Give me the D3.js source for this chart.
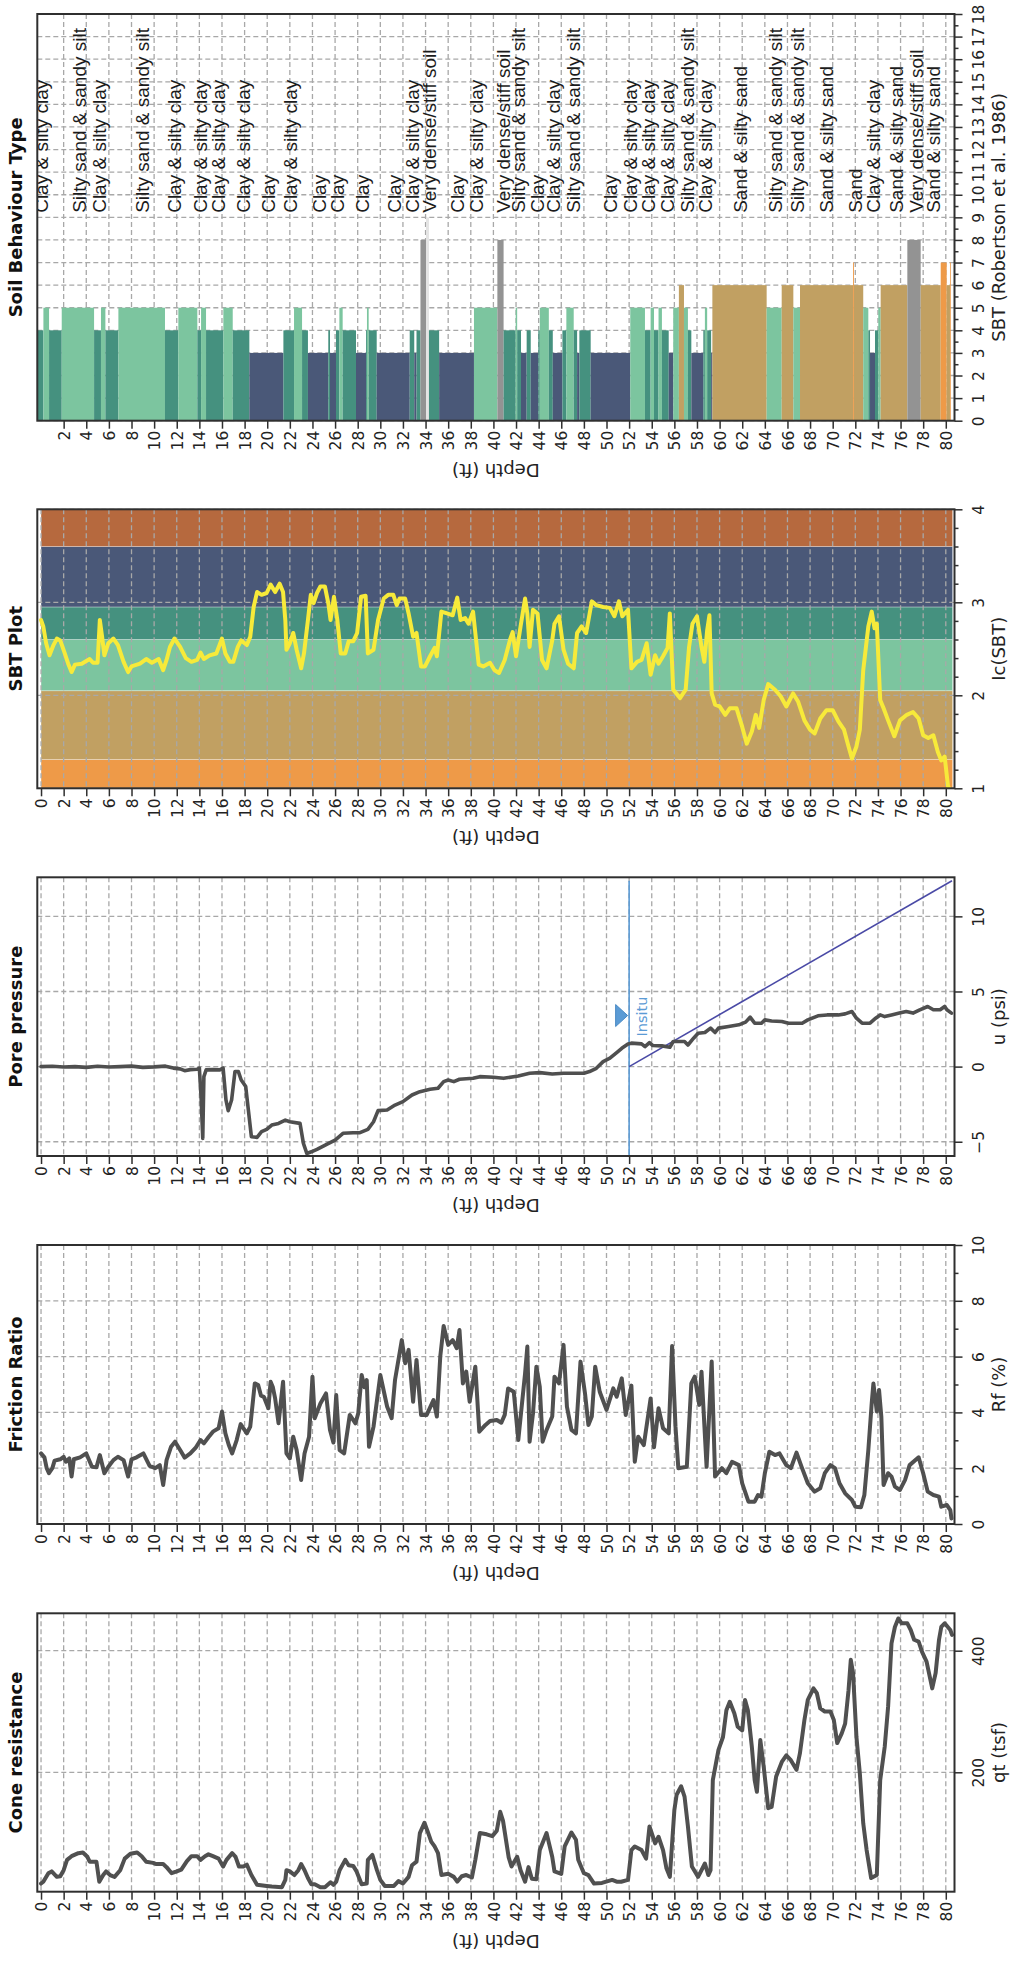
<!DOCTYPE html>
<html>
<head>
<meta charset="utf-8">
<script src="https://cdn.jsdelivr.net/npm/d3@7"></script>
<style>
  body { margin: 0; background: #fff; }
  svg { display: block; }
</style>
</head>
<body>
<svg id="log" width="1010" height="1967"></svg>
<script>
// ---------------- CPT sounding data (depth in ft) ----------------

// Cone resistance qt (tsf)
const coneResistance = [[0,17],[0.2,20],[0.65,34],[0.94,37],[1.4,28],[1.7,29],[2.0,39],[2.3,56],[2.7,62],[3.3,67],[3.7,68],[4.1,61],[4.3,53],[4.9,53],[5.15,20],[5.5,31],[5.75,37],[6.1,31],[6.5,28],[7.0,39],[7.4,58],[7.9,66],[8.5,68],[8.9,62],[9.3,53],[9.9,51],[10.2,49],[10.8,49],[11.1,44],[11.55,34],[12.0,37],[12.4,40],[12.9,54],[13.3,62],[13.8,62],[14.1,56],[14.5,62],[14.8,65],[15.2,62],[15.7,58],[16.1,45],[16.4,56],[16.9,67],[17.2,61],[17.5,45],[17.9,45],[18.2,48],[18.6,31],[19.1,15],[19.95,13],[20.4,12],[21.3,11],[21.6,23],[21.7,39],[22.0,37],[22.4,31],[22.75,39],[23.0,49],[23.3,39],[23.6,26],[23.9,16],[24.2,16],[24.7,11],[25.1,11],[25.6,19],[25.85,15],[26.1,20],[26.4,39],[26.9,56],[27.2,47],[27.6,46],[27.9,37],[28.35,16],[28.8,17],[28.9,56],[29.3,64],[29.7,39],[30.0,23],[30.4,13],[31.2,13],[31.6,21],[32.0,17],[32.5,28],[32.8,47],[33.2,53],[33.5,100],[33.9,117],[34.2,102],[34.5,86],[34.8,78],[35.1,67],[35.4,31],[36.0,33],[36.5,28],[36.8,20],[37.2,29],[37.6,31],[38.1,27],[38.4,56],[38.8,100],[39.4,98],[39.9,95],[40.3,104],[40.6,135],[40.85,120],[41.1,90],[41.35,60],[41.6,45],[42.1,61],[42.4,39],[42.8,20],[43.1,44],[43.4,25],[43.8,24],[44.1,72],[44.7,100],[45.2,61],[45.4,37],[46.0,33],[46.3,78],[46.9,101],[47.3,89],[47.5,56],[48.0,34],[48.4,31],[48.9,17],[49.6,18],[50.5,23],[50.9,20],[51.3,20],[51.9,23],[52.2,72],[52.5,78],[53.1,72],[53.5,58],[53.8,111],[54.3,83],[54.6,94],[55.0,72],[55.3,42],[55.6,28],[56.0,138],[56.2,163],[56.6,177],[56.9,160],[57.2,111],[57.55,45],[58.1,28],[58.7,50],[59.0,31],[59.2,39],[59.4,187],[59.9,237],[60.3,258],[60.6,302],[60.9,316],[61.3,297],[61.6,275],[62.0,269],[62.25,319],[62.5,302],[62.85,242],[63.1,187],[63.3,168],[63.6,253],[63.9,209],[64.3,141],[64.6,143],[65.0,193],[65.5,217],[65.9,228],[66.3,220],[66.8,204],[67.1,231],[67.5,286],[67.8,319],[68.3,338],[68.6,330],[68.9,305],[69.3,300],[69.8,300],[70.1,286],[70.4,248],[70.8,264],[71.1,280],[71.4,335],[71.6,385],[71.8,363],[72.1,258],[72.4,198],[72.7,116],[73.0,72],[73.4,26],[73.9,31],[74.2,187],[74.6,242],[74.9,308],[75.2,412],[75.5,439],[75.8,453],[76.1,445],[76.6,445],[76.9,434],[77.2,418],[77.6,415],[77.9,398],[78.3,382],[78.8,338],[79.1,363],[79.4,418],[79.6,439],[79.9,445],[80.4,434],[80.55,426]];

// Friction ratio Rf (%)
const frictionRatio = [[0,2.53],[0.3,2.39],[0.5,2.0],[0.7,1.82],[1.0,2.0],[1.2,2.27],[1.7,2.32],[2.0,2.41],[2.2,2.23],[2.5,2.35],[2.7,1.70],[2.9,2.32],[3.45,2.39],[4.0,2.53],[4.5,2.05],[4.9,2.03],[5.2,2.47],[5.6,1.82],[5.95,2.05],[6.4,2.29],[6.8,2.41],[7.3,2.29],[7.7,1.70],[8.0,2.32],[8.45,2.39],[9.05,2.53],[9.6,2.08],[10.1,2.0],[10.5,2.11],[10.8,1.40],[11.1,2.29],[11.5,2.77],[11.85,2.95],[12.3,2.65],[12.7,2.38],[13.2,2.53],[13.7,2.75],[14.1,3.01],[14.4,2.89],[14.8,3.11],[15.2,3.31],[15.7,3.43],[16.0,4.03],[16.3,3.25],[16.6,2.83],[16.9,2.53],[17.3,3.01],[17.65,3.58],[18.2,3.25],[18.5,3.49],[18.9,5.04],[19.2,4.98],[19.45,4.6],[19.7,4.56],[20.1,4.15],[20.3,5.10],[20.5,4.9],[20.7,4.50],[21.0,3.61],[21.4,5.10],[21.7,2.53],[22.0,2.35],[22.3,3.13],[22.6,2.65],[23.0,1.58],[23.3,2.53],[23.7,3.13],[24.0,5.28],[24.2,3.79],[24.7,4.32],[25.2,4.68],[25.55,3.37],[25.85,2.92],[26.1,4.62],[26.4,2.65],[26.8,2.53],[27.3,3.91],[27.8,3.61],[28.05,3.97],[28.35,5.34],[28.6,4.9],[28.8,5.16],[29.0,2.77],[29.4,3.49],[30.0,5.34],[30.6,4.21],[31.0,3.79],[31.3,5.16],[31.9,6.59],[32.2,5.76],[32.5,6.24],[32.9,4.38],[33.2,5.88],[33.6,3.91],[34.1,3.91],[34.7,4.44],[35.0,3.85],[35.3,6.0],[35.6,7.10],[36.0,6.42],[36.4,6.59],[36.75,6.30],[37.0,6.95],[37.3,5.04],[37.6,5.46],[37.9,4.38],[38.4,5.64],[38.75,3.31],[39.3,3.55],[39.7,3.69],[40.3,3.73],[40.7,3.63],[41.0,3.91],[41.3,4.86],[41.8,4.74],[42.2,3.01],[42.5,4.21],[42.8,5.40],[43.0,6.36],[43.2,2.95],[43.5,3.97],[43.8,5.64],[44.1,4.92],[44.35,2.95],[44.7,3.37],[45.2,3.85],[45.4,5.28],[45.8,5.04],[46.2,6.42],[46.5,4.21],[46.9,3.37],[47.3,3.25],[47.7,5.82],[48.1,4.68],[48.4,3.55],[48.7,3.85],[49.0,5.64],[49.4,4.74],[50.0,4.09],[50.6,4.86],[50.9,4.56],[51.35,5.22],[51.7,3.91],[52.2,4.96],[52.5,2.23],[52.8,3.13],[53.3,2.83],[53.9,4.50],[54.2,2.75],[54.6,4.15],[55.0,3.43],[55.5,3.25],[55.8,6.38],[56.1,3.49],[56.35,2.0],[57.1,2.05],[57.5,5.04],[57.8,5.28],[58.2,4.27],[58.4,5.46],[58.85,2.05],[59.3,5.82],[59.6,1.70],[60.2,2.0],[60.6,1.82],[61.1,2.23],[61.7,2.11],[62.0,1.46],[62.55,0.80],[63.1,0.80],[63.4,1.04],[63.7,0.98],[64.0,1.82],[64.4,2.59],[64.9,2.47],[65.3,2.53],[65.9,2.11],[66.3,2.0],[66.8,2.56],[67.25,2.05],[67.8,1.46],[68.4,1.16],[68.9,1.28],[69.3,1.82],[69.8,2.11],[70.2,2.0],[70.6,1.46],[71.1,1.10],[71.7,0.86],[72.0,0.62],[72.5,0.60],[72.8,1.04],[73.15,2.65],[73.45,4.33],[73.6,5.04],[73.9,4.03],[74.1,4.80],[74.3,3.85],[74.5,1.40],[74.9,1.82],[75.2,1.70],[75.5,1.34],[75.95,1.22],[76.4,1.58],[76.8,2.11],[77.6,2.39],[78.0,1.82],[78.4,1.16],[78.9,1.04],[79.4,0.98],[79.6,0.62],[80.1,0.68],[80.4,0.50],[80.5,0.20]];

// Pore pressure u (psi)
const porePressure = [[0,0],[1,0.02],[2,-0.03],[3,0.0],[4,-0.05],[5,0.02],[6,-0.03],[7,0.0],[8,0.03],[9,-0.05],[10,-0.02],[11,0.03],[11.7,-0.1],[12.3,-0.15],[12.7,-0.27],[13.2,-0.2],[13.8,-0.18],[14.0,-0.1],[14.15,-2.0],[14.3,-4.78],[14.4,-0.67],[14.6,-0.22],[15.2,-0.2],[15.8,-0.22],[16.1,-0.1],[16.35,-2.22],[16.55,-2.93],[16.85,-2.22],[17.15,-0.33],[17.45,-0.33],[17.7,-0.89],[18.1,-1.33],[18.3,-2.67],[18.6,-4.67],[19.1,-4.71],[19.5,-4.33],[19.95,-4.18],[20.4,-3.89],[21.0,-3.78],[21.6,-3.56],[22.0,-3.67],[22.9,-3.78],[23.2,-5.11],[23.5,-5.78],[23.9,-5.67],[24.4,-5.51],[25.3,-5.16],[26.0,-4.89],[26.7,-4.44],[27.6,-4.4],[28.2,-4.4],[28.9,-4.18],[29.4,-3.67],[29.8,-2.93],[30.6,-2.89],[31.3,-2.56],[32.0,-2.33],[32.8,-1.89],[33.5,-1.67],[34.4,-1.51],[35.1,-1.44],[35.6,-1.0],[36.0,-0.89],[36.5,-1.0],[37.0,-0.84],[38.2,-0.78],[38.8,-0.67],[40.0,-0.71],[40.9,-0.78],[42.2,-0.62],[43.2,-0.44],[44.1,-0.4],[45.2,-0.49],[46.2,-0.44],[48.0,-0.44],[48.5,-0.33],[49.1,-0.11],[49.7,0.33],[50.3,0.56],[50.9,0.93],[51.35,1.22],[51.9,1.51],[52.2,1.56],[53.1,1.51],[53.4,1.33],[53.8,1.6],[54.1,1.4],[54.9,1.38],[55.6,1.29],[55.9,1.67],[56.9,1.67],[57.2,1.44],[57.7,1.89],[58.1,2.22],[58.7,2.27],[59.2,2.56],[59.6,2.27],[59.9,2.56],[60.8,2.67],[61.7,2.78],[62.3,2.96],[62.7,3.29],[63.1,2.89],[63.7,2.89],[64.0,3.11],[64.6,3.04],[65.5,3.0],[66.1,2.89],[67.3,2.89],[67.8,3.11],[68.7,3.38],[69.5,3.44],[70.5,3.44],[71.1,3.51],[71.7,3.67],[72.1,3.22],[72.6,2.89],[73.3,2.89],[73.8,3.22],[74.2,3.44],[74.6,3.33],[75.2,3.44],[75.9,3.56],[76.5,3.67],[77.1,3.56],[77.7,3.78],[78.4,4.0],[78.9,3.78],[79.5,3.78],[79.9,4.0],[80.1,3.78],[80.5,3.56]];

// Hydrostatic (in-situ) pressure line and water table
const waterTableDepth = 52;
const hydroDepth = [52, 80.55];
const hydroPressure = [0, 12.37];
const insituMarkerU = 3.4;

// Soil behaviour type index Ic
const icSBT = [[0,2.81],[0.2,2.74],[0.45,2.56],[0.75,2.43],[1.1,2.54],[1.4,2.61],[1.7,2.59],[2.1,2.45],[2.4,2.34],[2.7,2.25],[3.0,2.33],[3.6,2.34],[4.3,2.39],[4.6,2.35],[5.0,2.35],[5.2,2.81],[5.4,2.63],[5.6,2.43],[5.95,2.56],[6.4,2.61],[6.8,2.54],[7.3,2.36],[7.7,2.25],[8.0,2.31],[8.75,2.34],[9.3,2.39],[9.8,2.35],[10.4,2.39],[10.8,2.27],[11.1,2.38],[11.4,2.52],[11.8,2.61],[12.3,2.52],[12.8,2.40],[13.3,2.36],[13.8,2.38],[14.1,2.46],[14.4,2.39],[14.9,2.43],[15.5,2.45],[16.0,2.61],[16.3,2.45],[16.7,2.36],[17.0,2.36],[17.4,2.52],[17.7,2.59],[18.2,2.54],[18.5,2.63],[18.8,2.95],[19.1,3.11],[19.5,3.08],[19.95,3.10],[20.3,3.19],[20.7,3.11],[21.1,3.20],[21.4,3.11],[21.6,2.81],[21.7,2.49],[22.0,2.56],[22.3,2.67],[22.6,2.49],[23.0,2.29],[23.25,2.45],[23.6,2.81],[23.85,3.08],[24.1,2.99],[24.4,3.10],[24.7,3.17],[25.1,3.17],[25.4,2.99],[25.6,2.81],[25.9,3.06],[26.2,2.81],[26.5,2.45],[26.9,2.45],[27.2,2.58],[27.6,2.58],[27.95,2.67],[28.3,3.06],[28.7,3.07],[28.9,2.45],[29.4,2.49],[29.8,2.81],[30.3,3.04],[30.7,3.08],[31.15,3.08],[31.45,2.97],[31.7,3.04],[32.2,3.04],[32.5,2.88],[32.9,2.63],[33.2,2.67],[33.6,2.31],[33.95,2.31],[34.4,2.42],[34.8,2.51],[35.0,2.42],[35.4,2.90],[35.9,2.88],[36.4,2.86],[36.8,3.05],[37.1,2.81],[37.5,2.83],[37.8,2.77],[38.2,2.90],[38.7,2.33],[39.1,2.31],[39.7,2.35],[40.1,2.27],[40.5,2.24],[41.0,2.38],[41.5,2.61],[41.7,2.68],[42.0,2.42],[42.4,2.74],[42.8,3.04],[43.0,2.88],[43.2,2.52],[43.5,2.92],[43.9,2.88],[44.3,2.38],[44.7,2.29],[45.2,2.59],[45.4,2.77],[45.8,2.85],[46.2,2.49],[46.6,2.34],[47.1,2.29],[47.4,2.67],[47.8,2.74],[48.2,2.67],[48.7,3.01],[49.1,2.97],[49.7,2.95],[50.3,2.94],[50.7,2.85],[51.1,3.01],[51.4,2.85],[51.9,2.92],[52.2,2.29],[52.7,2.36],[53.1,2.38],[53.55,2.56],[53.9,2.22],[54.3,2.43],[54.6,2.34],[55.0,2.42],[55.4,2.51],[55.6,2.88],[55.9,2.06],[56.5,1.97],[57.0,2.06],[57.3,2.52],[57.6,2.77],[58.0,2.85],[58.4,2.52],[58.65,2.36],[58.9,2.70],[59.1,2.86],[59.3,2.02],[59.6,1.90],[60.0,1.88],[60.5,1.79],[60.9,1.86],[61.5,1.86],[62.0,1.66],[62.4,1.48],[62.85,1.61],[63.2,1.79],[63.5,1.65],[63.9,1.95],[64.3,2.12],[64.9,2.06],[65.4,1.99],[65.9,1.88],[66.5,2.02],[66.95,1.93],[67.5,1.73],[68.0,1.63],[68.4,1.59],[68.9,1.75],[69.45,1.84],[70.0,1.84],[70.5,1.72],[71.0,1.63],[71.4,1.45],[71.7,1.32],[72.1,1.45],[72.4,1.63],[72.7,2.27],[73.15,2.74],[73.45,2.90],[73.7,2.72],[73.9,2.77],[74.2,1.95],[74.5,1.86],[74.9,1.73],[75.45,1.56],[75.95,1.73],[76.55,1.79],[77.1,1.82],[77.6,1.75],[78.0,1.57],[78.45,1.54],[78.9,1.57],[79.3,1.39],[79.6,1.30],[79.9,1.34],[80.2,1.02],[80.3,1.0]];

// Ic zone boundaries and their zone colours (lowest band first)
const icBounds = [1, 1.31, 2.05, 2.6, 2.95, 3.6, 4];
const icBandColors = ["#ee9a48", "#c1a062", "#7cc59f", "#45917f", "#4a5878", "#b6693e"];
const icBandEndDepth = 80.6;

// SBT layers: top depth of each layer and its zone number
const sbtLayerTop = [-0.33,0.21,0.71,1.83,4.69,5.3,5.69,6.84,10.96,12.14,13.82,14.15,14.59,16.12,16.95,18.42,21.43,22.37,23.08,23.6,25.4,25.55,26.08,26.38,26.67,27.85,28.74,28.82,28.97,29.68,32.6,33.0,33.2,33.55,34.04,34.3,35.2,38.28,40.35,40.9,41.97,42.1,42.44,42.94,43.3,43.97,44.1,44.9,45.25,46.1,46.45,47.1,47.4,47.6,48.6,52.1,53.4,53.9,54.2,54.6,54.9,55.5,55.9,56.4,56.85,57.2,57.5,58.56,58.7,58.9,59.25,59.36,64.16,65.49,66.52,67.11,71.8,71.88,72.7,73.15,73.3,73.74,74.03,74.24,76.6,77.78,79.55,80.08,80.37];
const sbtLayerZone = [4,5,4,5,4,5,4,5,4,5,4,5,4,5,4,3,4,5,4,3,4,3,4,5,4,3,4,5,4,3,4,3,4,8,9,4,3,5,8,4,5,4,3,4,3,4,5,4,3,4,5,4,3,4,3,5,4,5,4,5,4,3,5,6,5,4,3,4,5,4,3,6,5,6,5,6,7,6,5,4,3,4,5,6,8,6,7,6,7];
const sbtLayerEnd = 80.42;
const zoneColors = {3: "#4a5878", 4: "#45917f", 5: "#7cc59f", 6: "#c1a062", 7: "#ee9a48", 8: "#939393", 9: "#e4e4e4"};

// SBT layer descriptions and the depth each is written at
const sbtLabelDepth = [0.65,3.95,5.72,9.55,12.35,14.7,16.3,18.5,20.7,22.66,25.17,26.8,29.0,31.8,33.45,34.95,37.4,39.1,41.45,42.8,44.5,45.9,47.65,50.95,52.7,54.3,55.97,57.7,59.35,62.45,65.55,67.5,70.0,72.55,74.15,76.2,77.95,79.5];
const sbtLabelText = ["Clay & silty clay","Silty sand & sandy silt","Clay & silty clay","Silty sand & sandy silt","Clay & silty clay","Clay & silty clay","Clay & silty clay","Clay & silty clay","Clay","Clay & silty clay","Clay","Clay","Clay","Clay","Clay & silty clay","Very dense/stiff soil","Clay","Clay & silty clay","Very dense/stiff soil","Silty sand & sandy silt","Clay","Clay & silty clay","Silty sand & sandy silt","Clay","Clay & silty clay","Clay & silty clay","Clay & silty clay","Silty sand & sandy silt","Clay & silty clay","Sand & silty sand","Silty sand & sandy silt","Silty sand & sandy silt","Sand & silty sand","Sand","Clay & silty clay","Sand & silty sand","Very dense/stiff soil","Sand & silty sand"];

// Axis ticks
const depthTicks = d3.range(0, 81, 2);
const sbtDepthTicks = d3.range(2, 81, 2);
const sbtTicks = d3.range(0, 19, 1);
const sbtMinorTicks = d3.range(0.5, 18, 1);
const icTicks = [1, 2, 3, 4];
const icMinorTicks = d3.range(1, 4.001, 0.2).map(v => +v.toFixed(1)).filter(v => !icTicks.includes(v));
const uTicks = [-5, 0, 5, 10];
const rfTicks = [0, 2, 4, 6, 8, 10];
const rfMinorTicks = [1, 3, 5, 7, 9];
const qtTicks = [200, 400];

// ---------------- layout ----------------
const svg = d3.select("#log");
const plotLeft = 37.3, plotRight = 954.5;
const x = d3.scaleLinear().domain([-0.33, 80.77]).range([plotLeft, plotRight]);

const TICK_FONT = "'DejaVu Sans', Verdana, sans-serif";
const LABEL_FONT = "'Liberation Sans', Arial, sans-serif";
const FRAME = "#2f2f2f";

let clipId = 0;

function drawPanel(cfg) {
  const g = svg.append("g");
  const y = d3.scaleLinear().domain(cfg.domain).range([cfg.bottom, cfg.top]);
  const xTicks = cfg.depthTicks || depthTicks;
  const cid = "clip" + (clipId++);
  g.append("clipPath").attr("id", cid).append("rect")
    .attr("x", plotLeft).attr("y", cfg.top)
    .attr("width", plotRight - plotLeft).attr("height", cfg.bottom - cfg.top);

  const under = g.append("g").attr("clip-path", `url(#${cid})`);
  if (cfg.under) cfg.under(under, y);

  // dashed grid
  const grid = g.append("g")
    .attr("stroke", "#a8a8a8").attr("stroke-width", 1.3)
    .attr("stroke-dasharray", "5,3").attr("fill", "none");
  grid.selectAll("line.v").data(xTicks).join("line")
    .attr("x1", d => x(d)).attr("x2", d => x(d))
    .attr("y1", cfg.top).attr("y2", cfg.bottom);
  grid.selectAll("line.h").data(cfg.gridValues).join("line")
    .attr("x1", plotLeft).attr("x2", plotRight)
    .attr("y1", d => y(d)).attr("y2", d => y(d));

  const over = g.append("g").attr("clip-path", `url(#${cid})`);
  if (cfg.over) cfg.over(over, y);

  // frame
  g.append("rect")
    .attr("x", plotLeft).attr("y", cfg.top)
    .attr("width", plotRight - plotLeft).attr("height", cfg.bottom - cfg.top)
    .attr("fill", "none").attr("stroke", FRAME).attr("stroke-width", 2);

  // depth axis along the bottom
  const xa = g.append("g").attr("transform", `translate(0,${cfg.bottom})`)
    .call(d3.axisBottom(x).tickValues(xTicks).tickSize(8).tickSizeOuter(0));
  xa.select(".domain").remove();
  xa.selectAll(".tick line").attr("stroke", FRAME).attr("stroke-width", 1.5);
  xa.selectAll(".tick text")
    .attr("transform", "rotate(-90)")
    .attr("x", -10).attr("y", 0).attr("dy", "0.36em")
    .attr("text-anchor", "end")
    .attr("fill", "#222")
    .style("font-family", TICK_FONT).style("font-size", "15.5px");

  g.append("text")
    .attr("transform", `translate(${(plotLeft + plotRight) / 2},${cfg.bottom + 43}) rotate(180)`)
    .attr("text-anchor", "middle")
    .attr("fill", "#222")
    .style("font-family", TICK_FONT).style("font-size", "18px")
    .text("Depth (ft)");

  // value axis on the right
  const ya = g.append("g").attr("transform", `translate(${plotRight},0)`)
    .call(d3.axisRight(y).tickValues(cfg.ticks).tickSize(8).tickSizeOuter(0).tickFormat(d3.format("d")));
  ya.select(".domain").remove();
  ya.selectAll(".tick line").attr("stroke", FRAME).attr("stroke-width", 1.5);
  ya.selectAll(".tick text")
    .attr("transform", "rotate(-90)")
    .attr("x", 0).attr("y", 29).attr("dy", 0)
    .attr("text-anchor", "middle")
    .attr("fill", "#222")
    .style("font-family", TICK_FONT).style("font-size", "15.5px");
  if (cfg.minorTicks) {
    const ym = g.append("g").attr("transform", `translate(${plotRight},0)`)
      .call(d3.axisRight(y).tickValues(cfg.minorTicks).tickSize(4).tickSizeOuter(0).tickFormat(""));
    ym.select(".domain").remove();
    ym.selectAll(".tick line").attr("stroke", FRAME).attr("stroke-width", 1.5);
  }

  const midY = (cfg.top + cfg.bottom) / 2;
  g.append("text")
    .attr("transform", `translate(${plotRight + 50},${midY}) rotate(-90)`)
    .attr("text-anchor", "middle")
    .attr("fill", "#222")
    .style("font-family", TICK_FONT).style("font-size", "18px")
    .text(cfg.axisTitle);

  g.append("text")
    .attr("transform", `translate(22,${midY}) rotate(-90)`)
    .attr("text-anchor", "middle")
    .attr("fill", "#111")
    .style("font-family", TICK_FONT).style("font-size", "18px").style("font-weight", "bold")
    .text(cfg.title);

  return y;
}

function traceLine(layer, y, data, color, width) {
  layer.append("path")
    .datum(data)
    .attr("fill", "none")
    .attr("stroke", color)
    .attr("stroke-width", width)
    .attr("stroke-linejoin", "round")
    .attr("stroke-linecap", "round")
    .attr("d", d3.line().x(d => x(d[0])).y(d => y(d[1])));
}

// ---------------- Soil Behaviour Type ----------------
drawPanel({
  top: 14, bottom: 420.7, domain: [0, 18],
  ticks: sbtTicks, minorTicks: sbtMinorTicks, gridValues: sbtTicks,
  depthTicks: sbtDepthTicks,
  title: "Soil Behaviour Type", axisTitle: "SBT (Robertson et al. 1986)",
  over: (layer, y) => {
    const layers = sbtLayerTop.map((top, i) => ({
      top, zone: sbtLayerZone[i],
      end: i + 1 < sbtLayerTop.length ? sbtLayerTop[i + 1] : sbtLayerEnd
    }));
    layer.selectAll("rect.layer").data(layers).join("rect")
      .attr("x", d => x(d.top))
      .attr("width", d => Math.max(0.8, x(d.end) - x(d.top)))
      .attr("y", d => y(d.zone))
      .attr("height", d => y(0) - y(d.zone))
      .attr("fill", d => zoneColors[d.zone]);
    const labels = sbtLabelDepth.map((d, i) => ({ d, t: sbtLabelText[i] }));
    layer.selectAll("text.sbt").data(labels).join("text")
      .attr("transform", d => `translate(${x(d.d)},${y(9.2)}) rotate(-90)`)
      .attr("fill", "#1b1b1b")
      .style("font-family", LABEL_FONT).style("font-size", "19px")
      .text(d => d.t);
  }
});

// ---------------- SBT Plot (Ic) ----------------
drawPanel({
  top: 509.3, bottom: 788.3, domain: [1, 4],
  ticks: icTicks, minorTicks: icMinorTicks, gridValues: icTicks,
  title: "SBT Plot", axisTitle: "Ic(SBT)",
  under: (layer, y) => {
    const bands = icBandColors.map((c, i) => ({ lo: icBounds[i], hi: icBounds[i + 1], c }));
    layer.selectAll("rect.band").data(bands).join("rect")
      .attr("x", x(0)).attr("width", x(icBandEndDepth) - x(0))
      .attr("y", d => y(d.hi)).attr("height", d => y(d.lo) - y(d.hi))
      .attr("fill", d => d.c)
      .attr("stroke", "rgba(255,255,255,0.3)").attr("stroke-width", 1);
  },
  over: (layer, y) => traceLine(layer, y, icSBT, "#f7ea3a", 4)
});

// ---------------- Pore pressure ----------------
drawPanel({
  top: 877.3, bottom: 1156, domain: [-5.95, 12.6],
  ticks: uTicks, gridValues: uTicks,
  title: "Pore pressure", axisTitle: "u (psi)",
  over: (layer, y) => {
    layer.append("line")
      .attr("x1", x(waterTableDepth)).attr("x2", x(waterTableDepth))
      .attr("y1", y(hydroPressure[1])).attr("y2", y(-5.95))
      .attr("stroke", "#5b9bd5").attr("stroke-width", 1.6);
    layer.append("line")
      .attr("x1", x(hydroDepth[0])).attr("y1", y(hydroPressure[0]))
      .attr("x2", x(hydroDepth[1])).attr("y2", y(hydroPressure[1]))
      .attr("stroke", "#4a4aa6").attr("stroke-width", 1.6);
    traceLine(layer, y, porePressure, "#4f4f4f", 3.6);
    const ax = x(waterTableDepth) - 1.5, ay = y(insituMarkerU);
    layer.append("path")
      .attr("d", `M${ax},${ay} L${ax - 12},${ay - 11} L${ax - 12},${ay + 11} Z`)
      .attr("fill", "#5b9bd5").attr("stroke", "#4a8ac4").attr("stroke-width", 1);
    layer.append("text")
      .attr("transform", `translate(${x(waterTableDepth) + 18},${y(2)}) rotate(-90)`)
      .attr("fill", "#5b9bd5")
      .style("font-family", TICK_FONT).style("font-size", "14.5px")
      .text("Insitu");
  }
});

// ---------------- Friction Ratio ----------------
drawPanel({
  top: 1245, bottom: 1524, domain: [0, 10],
  ticks: rfTicks, minorTicks: rfMinorTicks, gridValues: rfTicks,
  title: "Friction Ratio", axisTitle: "Rf (%)",
  over: (layer, y) => traceLine(layer, y, frictionRatio, "#505050", 4)
});

// ---------------- Cone resistance ----------------
drawPanel({
  top: 1613.3, bottom: 1891.7, domain: [3.6, 461.5],
  ticks: qtTicks, gridValues: qtTicks,
  title: "Cone resistance", axisTitle: "qt (tsf)",
  over: (layer, y) => traceLine(layer, y, coneResistance, "#505050", 4)
});
</script>
</body>
</html>
